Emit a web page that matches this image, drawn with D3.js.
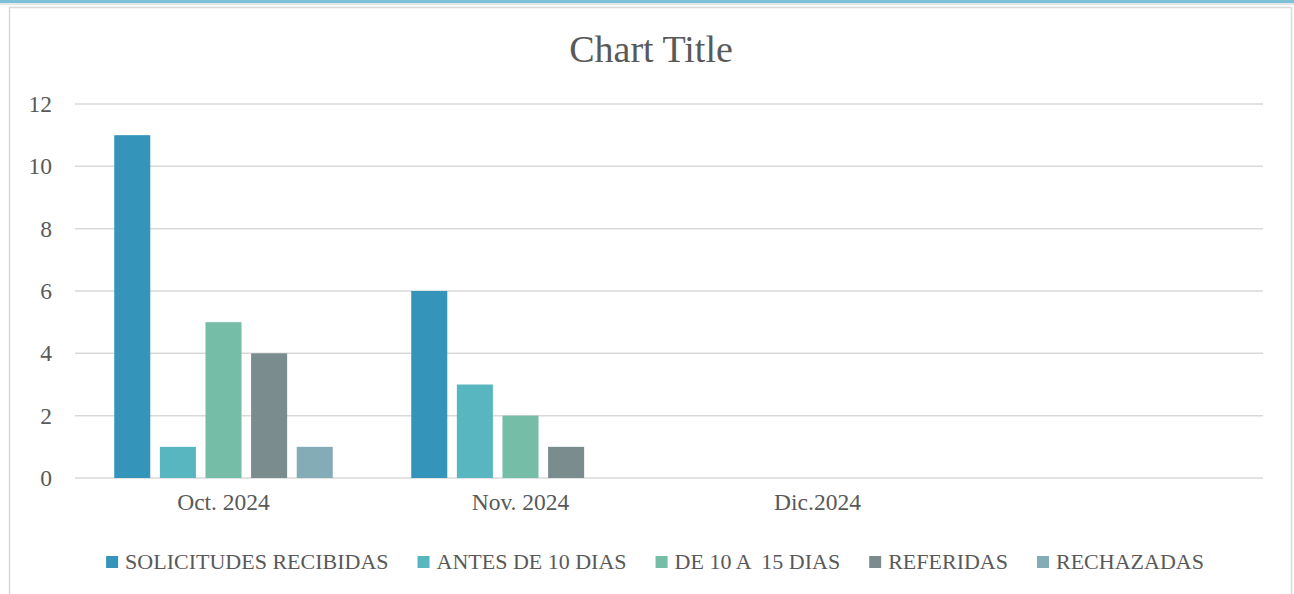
<!DOCTYPE html>
<html>
<head>
<meta charset="utf-8">
<script src="https://cdn.jsdelivr.net/npm/d3@7"></script>
<style>
body { margin: 0; background: #fff; }
text { font-family: "Liberation Serif", serif; fill: #595959; }
</style>
</head>
<body>
<svg id="mysvg" width="1294" height="594"></svg>
<script>
// data
var months = ["Oct. 2024", "Nov. 2024", "Dic.2024", ""];
var seriesNames = ["SOLICITUDES RECIBIDAS", "ANTES DE 10 DIAS", "DE 10 A  15 DIAS", "REFERIDAS", "RECHAZADAS"];
var solicitudes = [11, 6, null, null];
var antes10 = [1, 3, null, null];
var de10a15 = [5, 2, null, null];
var referidas = [4, 1, null, null];
var rechazadas = [1, null, null, null];
var yTicks = [0, 2, 4, 6, 8, 10, 12];
var colors = ["#3494BA", "#58B6C0", "#75BDA7", "#7A8C8E", "#84ACB6"];

var allSeries = [solicitudes, antes10, de10a15, referidas, rechazadas];

var svg = d3.select("#mysvg");

// frame
svg.append("rect").attr("x", 0).attr("y", 0).attr("width", 1294).attr("height", 3).attr("fill", "#7dc1d9");
svg.append("rect").attr("x", 0).attr("y", 3).attr("width", 1294).attr("height", 2).attr("fill", "#e6e6e6");
svg.append("rect")
	.attr("x", 9.5).attr("y", 7.5)
	.attr("width", 1282).attr("height", 600)
	.attr("fill", "#fff")
	.attr("stroke", "#d9d9d9")
	.attr("stroke-width", 1.5);

var x0 = d3.scaleBand().domain(d3.range(months.length)).range([75, 1263]).padding(0);
var x1 = d3.scaleBand().domain(d3.range(seriesNames.length)).range([0, x0.bandwidth()])
	.paddingInner(0.21).paddingOuter(0.86);
var y = d3.scaleLinear().domain([0, 12]).range([478, 104]);

// gridlines
svg.append("g").selectAll("line").data(yTicks).enter().append("line")
	.attr("x1", 75).attr("x2", 1263)
	.attr("y1", function (d) { return y(d); })
	.attr("y2", function (d) { return y(d); })
	.attr("stroke", "#d9d9d9")
	.attr("stroke-width", 1.5);

// y axis labels
var yAxis = d3.axisLeft(y).tickValues(yTicks).tickSize(0).tickPadding(0);
var gy = svg.append("g").attr("transform", "translate(52,0)").call(yAxis);
gy.select(".domain").remove();
gy.selectAll("text").attr("font-size", 23.5).attr("font-family", "Liberation Serif").attr("fill", "#595959");

// bars
for (var s = 0 ; s < allSeries.length ; ++s) {
	var vals = allSeries[s];
	svg.append("g").selectAll("rect")
		.data(vals.map(function (v, i) { return {i: i, v: v}; }).filter(function (d) { return d.v != null; }))
		.enter().append("rect")
		.attr("x", function (d) { return x0(d.i) + x1(s); })
		.attr("width", x1.bandwidth())
		.attr("y", function (d) { return y(d.v); })
		.attr("height", function (d) { return y(0) - y(d.v); })
		.attr("fill", colors[s]);
}

// x axis labels
var xAxis = d3.axisBottom(x0).tickSize(0).tickPadding(0).tickFormat(function (d) { return months[d]; });
var gx = svg.append("g").attr("transform", "translate(0,493)").call(xAxis);
gx.select(".domain").remove();
gx.selectAll("text").attr("font-size", 23.5).attr("font-family", "Liberation Serif").attr("fill", "#595959");

// title
svg.append("text")
	.attr("x", 651).attr("y", 62)
	.attr("text-anchor", "middle")
	.attr("font-size", 38)
	.text("Chart Title");

// legend
var legend = svg.append("g");
var items = [];
var totalW = 0;
for (var i = 0 ; i < seriesNames.length ; ++i) {
	var g = legend.append("g");
	g.append("rect").attr("width", 12).attr("height", 12).attr("y", -13).attr("fill", colors[i]);
	var t = g.append("text").attr("x", 19).attr("font-size", 22)
		.style("white-space", "pre").attr("xml:space", "preserve")
		.text(seriesNames[i]);
	var w = 19 + t.node().getComputedTextLength();
	items.push({g: g, w: w});
	totalW += w;
}
var gap = 29;
totalW += gap * (items.length - 1);
var lx = 655 - totalW / 2;
for (var i = 0 ; i < items.length ; ++i) {
	items[i].g.attr("transform", "translate(" + lx + ",569)");
	lx += items[i].w + gap;
}
</script>
</body>
</html>
